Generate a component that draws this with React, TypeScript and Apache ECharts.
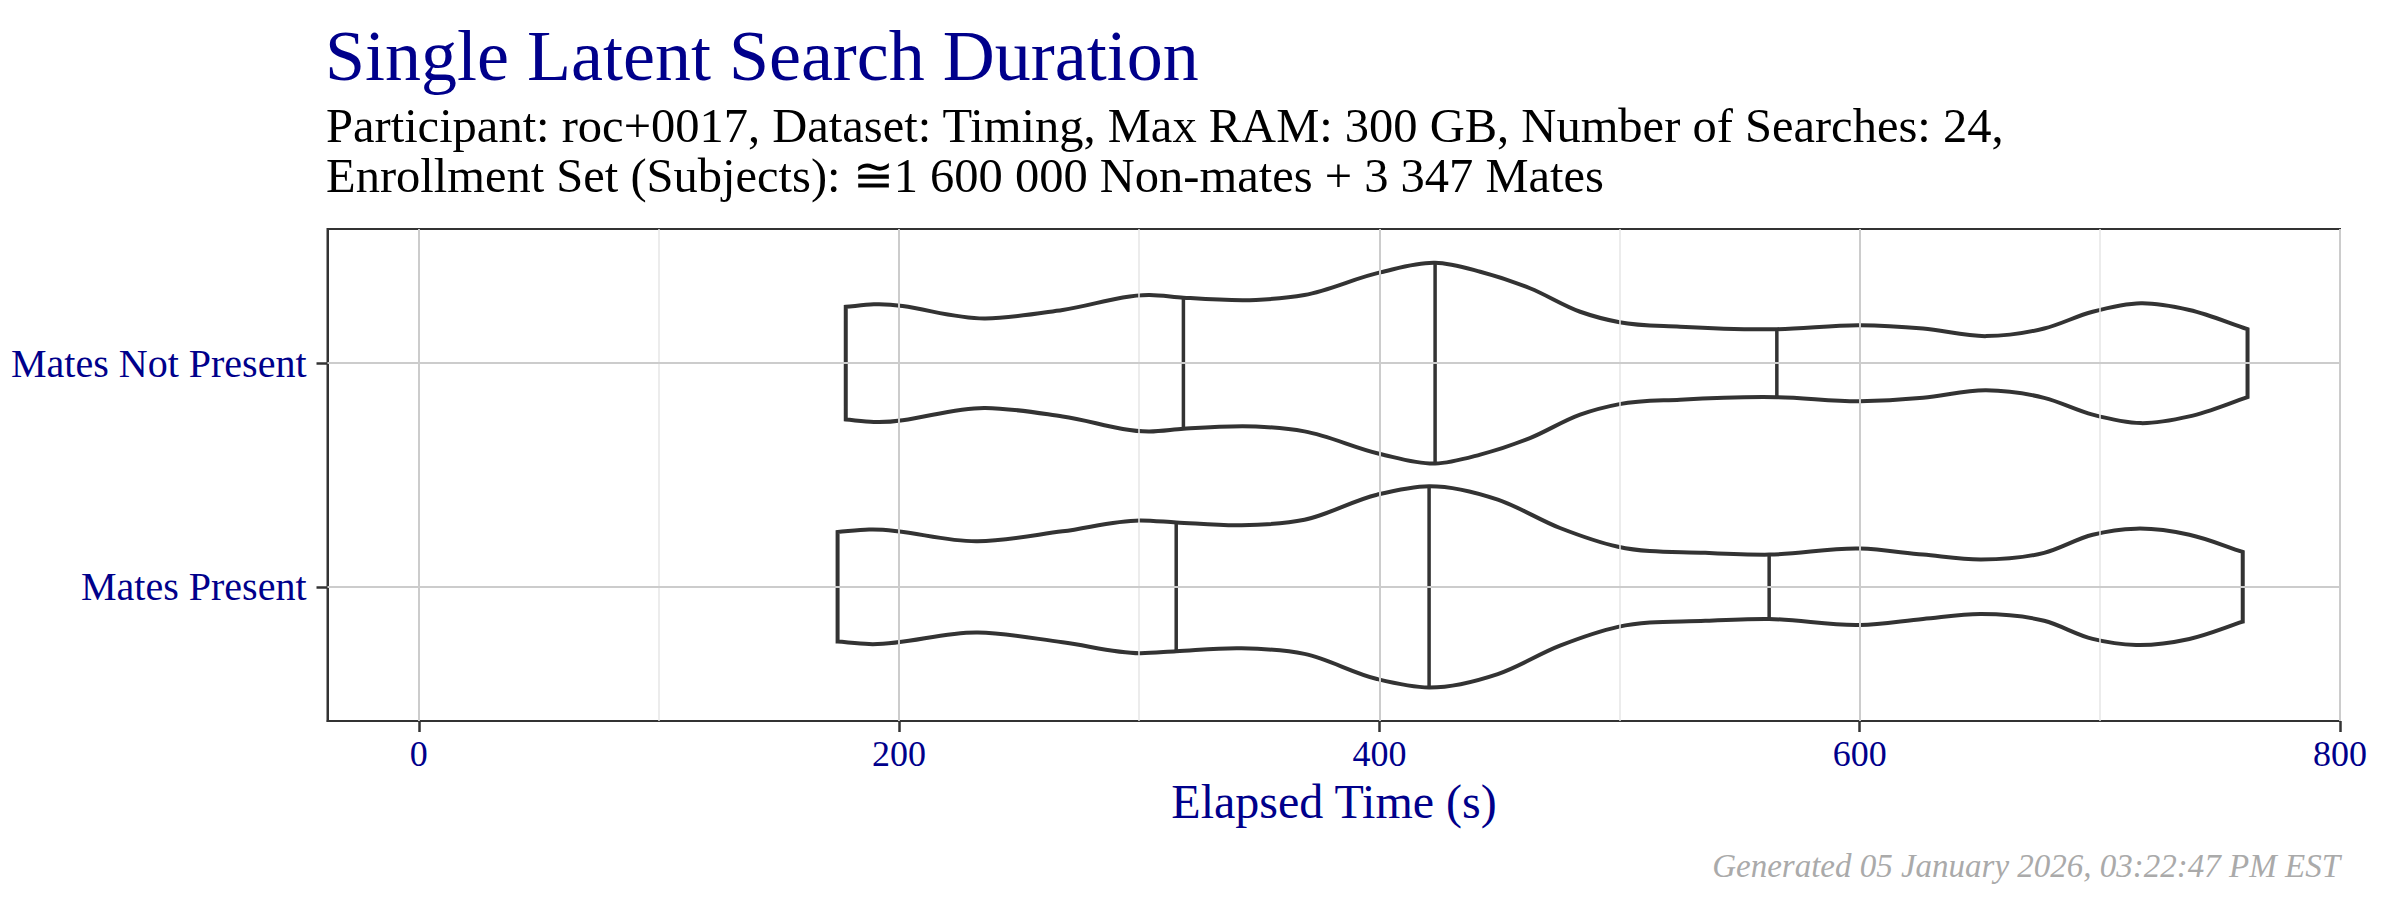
import { useEffect, useRef } from 'react'
import * as echarts from 'echarts'

// Single Latent Search Duration · violin plot (custom series)

const FONT = "'Liberation Serif', 'Times New Roman', serif"
const NAVY = '#00008B'
const INK = '#333333'

const CATEGORIES = ['Mates Present', 'Mates Not Present']
const X_TICKS = [0, 200, 400, 600, 800]
const X_MINOR = [100, 300, 500, 700]

// half-widths in y units (widest violin = 0.45)
const NOT_PRESENT_X = [177.8, 189.5, 235.9, 268.1, 304.3, 318.4, 348.6, 368.8, 400.3, 423.2, 442, 462.7, 483.6, 500, 525.2, 565.5, 600.2, 626.4, 652.6, 676.8, 697, 717.1, 737.3, 761.5]
const NOT_PRESENT_HALF = [0.252, 0.263, 0.2, 0.238, 0.305, 0.293, 0.283, 0.305, 0.406, 0.449, 0.409, 0.335, 0.23, 0.183, 0.163, 0.152, 0.17, 0.155, 0.121, 0.155, 0.23, 0.268, 0.238, 0.152]
const NOT_PRESENT_QUANTILES = [318.4, 423.2, 565.5]

const PRESENT_X = [174.4, 187.5, 232.8, 268.1, 300.3, 315.4, 342.6, 368.8, 399, 420.7, 449.3, 475.2, 499.4, 535.7, 562.3, 600.2, 626.4, 650.6, 676.8, 697, 715.1, 737.3, 759.5]
const PRESENT_HALF = [0.245, 0.256, 0.204, 0.248, 0.297, 0.288, 0.275, 0.3, 0.412, 0.45, 0.39, 0.263, 0.179, 0.152, 0.144, 0.171, 0.144, 0.122, 0.152, 0.233, 0.26, 0.233, 0.156]
const PRESENT_QUANTILES = [315.4, 420.7, 562.3]

const VIOLINS = [
  { pos: 1, xs: PRESENT_X, half: PRESENT_HALF, q: PRESENT_QUANTILES },
  { pos: 2, xs: NOT_PRESENT_X, half: NOT_PRESENT_HALF, q: NOT_PRESENT_QUANTILES },
]

function halfAt(xs: number[], hs: number[], x: number) {
  for (let i = 0; i < xs.length - 1; i++) {
    if (x >= xs[i] && x <= xs[i + 1]) {
      const t = (x - xs[i]) / (xs[i + 1] - xs[i])
      return hs[i] + t * (hs[i + 1] - hs[i])
    }
  }
  return hs[hs.length - 1]
}

// cubic Hermite through pixel points (x increasing) -> bezier segments
function slopes(p: number[][]) {
  const n = p.length
  const m: number[] = []
  for (let i = 0; i < n; i++) {
    if (i === 0) m.push((p[1][1] - p[0][1]) / (p[1][0] - p[0][0]))
    else if (i === n - 1) m.push((p[i][1] - p[i - 1][1]) / (p[i][0] - p[i - 1][0]))
    else {
      const h0 = p[i][0] - p[i - 1][0]
      const h1 = p[i + 1][0] - p[i][0]
      const d0 = (p[i][1] - p[i - 1][1]) / h0
      const d1 = (p[i + 1][1] - p[i][1]) / h1
      m.push((d0 * h1 + d1 * h0) / (h0 + h1))
    }
  }
  return m
}

function forwardPath(p: number[][]) {
  const m = slopes(p)
  let d = ''
  for (let i = 0; i < p.length - 1; i++) {
    const h = (p[i + 1][0] - p[i][0]) / 3
    d += ` C ${p[i][0] + h} ${p[i][1] + m[i] * h} ${p[i + 1][0] - h} ${p[i + 1][1] - m[i + 1] * h} ${p[i + 1][0]} ${p[i + 1][1]}`
  }
  return d
}

function backwardPath(p: number[][]) {
  const m = slopes(p)
  let d = ''
  for (let i = p.length - 1; i > 0; i--) {
    const h = (p[i][0] - p[i - 1][0]) / 3
    d += ` C ${p[i][0] - h} ${p[i][1] - m[i] * h} ${p[i - 1][0] + h} ${p[i - 1][1] + m[i - 1] * h} ${p[i - 1][0]} ${p[i - 1][1]}`
  }
  return d
}

export default function App() {
  const ref = useRef<HTMLDivElement>(null)

  useEffect(() => {
    if (!ref.current) return
    const chart = echarts.init(ref.current, undefined, { renderer: 'svg' })

    const major = { color: '#cccccc', width: 2, type: 'solid' as const }
    const minor = { color: '#e6e6e6', width: 1.5, type: 'solid' as const }

    chart.setOption({
      animation: false,
      backgroundColor: '#ffffff',
      grid: {
        left: 327.5,
        right: 60,
        top: 229,
        bottom: 179,
        show: true,
        borderColor: INK,
        borderWidth: 2,
        containLabel: false,
      },
      xAxis: {
        type: 'value',
        min: -38,
        max: 800,
        axisLine: { show: true, onZero: false, lineStyle: { color: INK, width: 2 } },
        axisTick: {
          show: true,
          length: 11,
          customValues: X_TICKS,
          lineStyle: { color: INK, width: 2.5 },
        },
        axisLabel: {
          customValues: X_TICKS,
          margin: 15,
          color: NAVY,
          fontSize: 36,
          lineHeight: 36,
          fontFamily: FONT,
        },
        splitLine: { show: false },
      },
      yAxis: {
        type: 'value',
        min: 0.4,
        max: 2.6,
        axisLine: { show: true, onZero: false, lineStyle: { color: INK, width: 2 } },
        axisTick: {
          show: true,
          length: 11,
          customValues: [1, 2],
          lineStyle: { color: INK, width: 2.5 },
        },
        axisLabel: {
          customValues: [1, 2],
          formatter: (v: number) => CATEGORIES[Math.round(v) - 1] ?? '',
          margin: 21,
          color: NAVY,
          fontSize: 40,
          lineHeight: 40,
          fontFamily: FONT,
        },
        splitLine: { show: false },
      },
      graphic: [
        {
          type: 'text',
          x: 325,
          y: 55.7,
          style: {
            text: 'Single Latent Search Duration',
            fontSize: 72,
            fontFamily: FONT,
            fill: NAVY,
            align: 'left',
            verticalAlign: 'middle',
          },
        },
        {
          type: 'text',
          x: 326,
          y: 125.8,
          style: {
            text: 'Participant: roc+0017, Dataset: Timing, Max RAM: 300 GB, Number of Searches: 24,',
            fontSize: 48.5,
            fontFamily: FONT,
            fill: '#000000',
            align: 'left',
            verticalAlign: 'middle',
          },
        },
        {
          type: 'text',
          x: 326,
          y: 175.8,
          style: {
            text: 'Enrollment Set (Subjects): \u22451 600 000 Non-mates + 3 347 Mates',
            fontSize: 48.5,
            fontFamily: FONT,
            fill: '#000000',
            align: 'left',
            verticalAlign: 'middle',
          },
        },
        {
          type: 'text',
          x: 1334,
          y: 801.8,
          style: {
            text: 'Elapsed Time (s)',
            fontSize: 48,
            fontFamily: FONT,
            fill: NAVY,
            align: 'center',
            verticalAlign: 'middle',
          },
        },
        {
          type: 'text',
          x: 2340,
          y: 866,
          style: {
            text: 'Generated 05 January 2026, 03:22:47 PM EST',
            fontSize: 33,
            fontStyle: 'italic',
            fontFamily: FONT,
            fill: '#aaaaaa',
            align: 'right',
            verticalAlign: 'middle',
          },
        },
      ],
      series: [
        {
          type: 'line',
          data: [],
          z: 1,
          silent: true,
          markLine: {
            silent: true,
            symbol: ['none', 'none'],
            label: { show: false },
            animation: false,
            data: [
              ...X_MINOR.map((v) => ({ xAxis: v, lineStyle: minor })),
              ...X_TICKS.map((v) => ({ xAxis: v, lineStyle: major })),
              ...[1, 2].map((v) => ({ yAxis: v, lineStyle: major })),
            ],
          },
        },
        {
          type: 'custom',
          z: 3,
          silent: true,
          coordinateSystem: 'cartesian2d',
          encode: { x: 0, y: 1 },
          data: VIOLINS.map((v) => [v.q[1], v.pos]),
          renderItem: (params: any, api: any) => {
            const v = VIOLINS[params.dataIndex]
            const top = v.xs.map((x, i) => api.coord([x, v.pos + v.half[i]]))
            const bottom = v.xs.map((x, i) => api.coord([x, v.pos - v.half[i]]))
            const n = v.xs.length - 1
            const pathData =
              `M ${top[0][0]} ${top[0][1]}` +
              forwardPath(top) +
              ` L ${bottom[n][0]} ${bottom[n][1]}` +
              backwardPath(bottom) +
              ' Z'
            const quantLines = v.q.map((q) => {
              const h = halfAt(v.xs, v.half, q)
              const a = api.coord([q, v.pos + h])
              const b = api.coord([q, v.pos - h])
              return {
                type: 'line',
                shape: { x1: a[0], y1: a[1], x2: b[0], y2: b[1] },
                style: { stroke: INK, lineWidth: 3.5 },
              }
            })
            return {
              type: 'group',
              children: [
                {
                  type: 'path',
                  shape: { pathData },
                  style: { fill: '#ffffff', stroke: INK, lineWidth: 4, lineJoin: 'miter' },
                },
                ...quantLines,
              ],
            }
          },
        },
      ],
    })

    return () => chart.dispose()
  }, [])

  return (
    <div
      ref={ref}
      style={{ position: 'fixed', left: 0, top: 0, width: 2400, height: 900, background: '#ffffff' }}
    />
  )
}
